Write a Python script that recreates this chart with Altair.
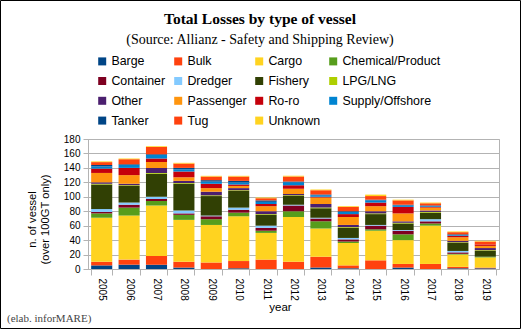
import altair as alt
import pandas as pd

years = [str(y) for y in range(2005, 2020)]
types = ["Barge", "Bulk", "Cargo", "Chemical/Product", "Container", "Dredger",
         "Fishery", "LPG/LNG", "Other", "Passenger", "Ro-ro", "Supply/Offshore",
         "Tanker", "Tug", "Unknown"]
colors = ["#004586", "#ff420e", "#ffd320", "#579d1c", "#7e0021", "#83caff",
          "#314004", "#aecf00", "#4b1f6f", "#ff950e", "#c5000b", "#0084d1",
          "#004586", "#ff420e", "#ffd320"]

barge     = [5, 6, 6, 2, 0, 1, 0, 0, 2, 1, 0, 2, 0, 1, 1]
bulk      = [5, 7, 12, 8, 9, 10, 13, 10, 15, 4, 12, 5, 7, 2, 1]
cargo     = [61, 61, 70, 58, 52, 62, 37, 62, 39, 31, 41, 33, 53, 17, 14]
chemical  = [6, 11, 6, 7, 8, 5, 3, 8, 10, 2, 2, 8, 3, 1, 1]
container = [2, 4, 3, 2, 4, 4, 4, 8, 4, 3, 5, 5, 3, 2, 0]
dredger   = [4, 3, 3, 4, 1, 3, 3, 1, 1, 2, 1, 1, 3, 2, 0]
fishery   = [34, 23, 32, 37, 27, 23, 15, 12, 13, 14, 15, 9, 9, 11, 8]
lpg       = [1, 1, 1, 1, 1, 1, 1, 1, 1, 1, 1, 1, 1, 1, 1]
other     = [2, 2, 7, 3, 5, 3, 4, 2, 5, 3, 3, 2, 2, 2, 3]
passenger = [13, 12, 8, 5, 5, 3, 7, 7, 9, 11, 7, 11, 4, 5, 3]
roro      = [6, 10, 5, 8, 6, 2, 3, 5, 1, 4, 5, 9, 1, 2, 2]
supply    = [3, 4, 5, 3, 3, 3, 3, 4, 2, 3, 3, 2, 1, 1, 0]
tanker    = [2, 1, 1, 2, 2, 2, 2, 1, 1, 1, 1, 1, 1, 1, 0]
tug       = [4, 7, 10, 6, 5, 6, 3, 7, 6, 6, 5, 6, 3, 3, 4]
unknown   = [1, 1, 1, 1, 1, 1, 1, 1, 1, 1, 2, 1, 1, 1, 1]

series = [barge, bulk, cargo, chemical, container, dredger, fishery, lpg, other,
          passenger, roro, supply, tanker, tug, unknown]

rows = []
for ti, (t, vals) in enumerate(zip(types, series)):
    for y, v in zip(years, vals):
        rows.append({"year": y, "type": t, "n": v, "ord": ti})
df = pd.DataFrame(rows)

W, H = 411, 130
PL, PT = 88, 139
SANS = "Liberation Sans"
SERIF = "Liberation Serif"

bars = alt.Chart(df).mark_bar().encode(
    x=alt.X("year:N", sort=years,
            scale=alt.Scale(paddingInner=0.23, paddingOuter=0.115),
            axis=alt.Axis(title="year", labelAngle=90, tickBand="extent",
                          labelFontSize=10, labelFont=SANS, labelColor="#000",
                          tickSize=6, labelPadding=3, tickColor="#b3b3b3",
                          domainColor="#b3b3b3", grid=False,
                          titleFont=SANS, titleFontSize=11.5, titleFontWeight="normal",
                          titleColor="#000", titleX=192, titleY=41,
                          titleBaseline="alphabetic", titleAlign="center")),
    y=alt.Y("n:Q", stack="zero",
            scale=alt.Scale(domain=[0, 180], nice=False),
            axis=alt.Axis(values=list(range(0, 181, 20)), title=["n. of vessel", "(over 100GT only)"],
                          labelFontSize=10, labelFont=SANS, labelColor="#000",
                          tickSize=5, labelPadding=3, tickColor="#b3b3b3",
                          domainColor="#b3b3b3", gridColor="#b3b3b3",
                          titleFont=SANS, titleFontSize=11.2, titleFontWeight="normal",
                          titleColor="#000", titleX=-62, titleY=80, titleAngle=270,
                          titleAlign="center", titleBaseline="top", titleLineHeight=13)),
    color=alt.Color("type:N", sort=types,
                    scale=alt.Scale(domain=types, range=colors),
                    legend=alt.Legend(title=None, orient="none", legendX=8, legendY=-84,
                                      direction="horizontal",
                                      columns=4, symbolType="square", symbolSize=64,
                                      symbolStrokeWidth=0, labelFont=SANS,
                                      labelFontSize=12.4, labelColor="#000",
                                      labelOffset=3, rowPadding=6.8, columnPadding=6,
                                      labelLimit=200, padding=0)),
    order=alt.Order("ord:Q", sort="ascending"),
)

titles = pd.DataFrame({
    "t": ["Total Losses by type of vessel", "(Source: Allianz - Safety and Shipping Review)"],
})
title_main = alt.Chart(titles.iloc[[0]]).mark_text(
    font=SERIF, fontSize=15.5, fontWeight="bold", color="#000",
    align="center", baseline="alphabetic").encode(
    text="t:N", x=alt.value(172), y=alt.value(-115))
title_sub = alt.Chart(titles.iloc[[1]]).mark_text(
    font=SERIF, fontSize=14, color="#000",
    align="center", baseline="alphabetic").encode(
    text="t:N", x=alt.value(172), y=alt.value(-95))
footer = alt.Chart(pd.DataFrame({"t": ["(elab. inforMARE)"]})).mark_text(
    font=SERIF, fontSize=11, color="#444",
    align="left", baseline="alphabetic").encode(
    text="t:N", x=alt.value(-81), y=alt.value(183))
frame = alt.Chart(pd.DataFrame({"a": [0]})).mark_rect(
    fill="transparent", stroke="#000", strokeWidth=1, clip=False).encode(
    x=alt.value(-PL + 0.5), x2=alt.value(521 - PL - 0.5),
    y=alt.value(-PT + 0.5), y2=alt.value(329 - PT - 0.5))

chart = alt.layer(bars, title_main, title_sub, footer, frame).properties(
    width=W, height=H,
    autosize=alt.AutoSizeParams(type="none"),
    padding={"left": PL, "top": PT, "right": 521 - PL - W, "bottom": 329 - PT - H},
    background="white",
).configure_view(stroke="#b3b3b3", strokeWidth=1)

chart.save("out.html", embed_options={"renderer": "svg", "actions": False})
